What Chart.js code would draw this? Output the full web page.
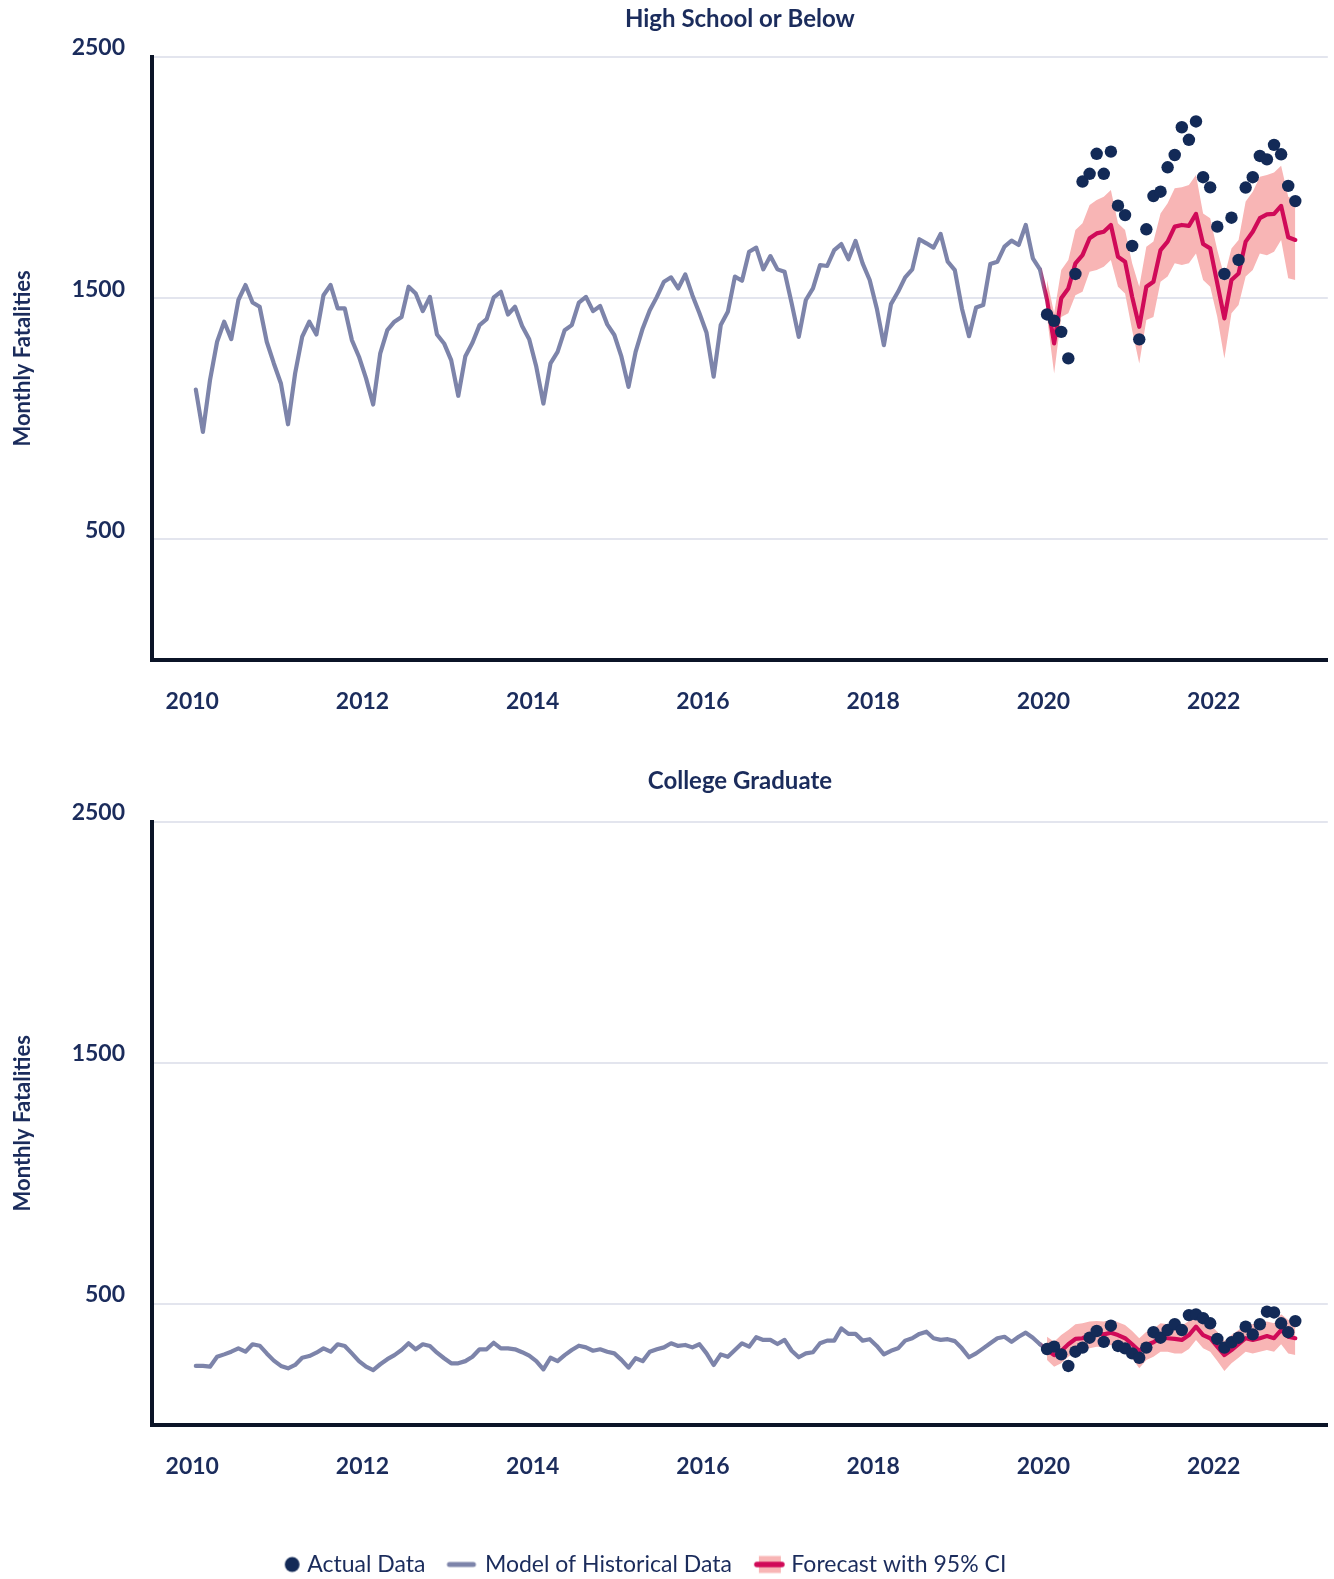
<!DOCTYPE html>
<html><head><meta charset="utf-8">
<script src="https://cdn.jsdelivr.net/npm/chart.js@4.4.1/dist/chart.umd.min.js"></script>
<style>
html,body{margin:0;padding:0;background:#ffffff;overflow:hidden;width:1334px;height:1579px;}
#c1wrap{position:absolute;left:0;top:0;width:1334px;height:740px;}
#c2wrap{position:absolute;left:0;top:760px;width:1334px;height:826px;}
</style></head><body>
<div id="c1wrap"><canvas id="c1"></canvas></div>
<div id="c2wrap"><canvas id="c2"></canvas></div>
<script>
// ---------- DATA ----------
const startYear = 2010;            // first month of series = Jan 2010
const forecastStartIndex = 120;    // Jan 2020
const xTickYears = [2010, 2012, 2014, 2016, 2018, 2020, 2022];
const yTickValues = [500, 1500, 2500];
const panelTitles = ["High School or Below", "College Graduate"];
const legendLabels = ["Actual Data", "Model of Historical Data", "Forecast with 95% CI"];

// High School or Below: monthly model of historical data, Jan 2010 - Dec 2019
const hsHistorical = [
1121,945,1160,1319,1402,1330,1492,1554,1482,1464,1319,1229,
1146,977,1188,1340,1402,1349,1512,1554,1457,1457,1326,1257,
1167,1059,1271,1367,1402,1422,1547,1519,1446,1505,1349,1312,
1243,1095,1259,1315,1388,1413,1503,1526,1432,1464,1384,1329,
1215,1063,1229,1277,1367,1388,1481,1505,1446,1467,1391,1347,
1257,1132,1277,1374,1450,1505,1568,1586,1540,1598,1512,1437,
1356,1174,1388,1443,1589,1572,1692,1709,1619,1674,1619,1609,
1478,1339,1492,1540,1637,1633,1699,1724,1661,1737,1644,1575,
1457,1305,1475,1526,1586,1619,1744,1727,1709,1766,1651,1616,
1457,1342,1461,1471,1641,1651,1713,1738,1720,1803,1665,1619];
// Forecast Jan 2020 - Dec 2022
const hsForecast = [
1492,1312,1499,1540,1644,1678,1748,1768,1775,1803,1671,1651,
1505,1381,1547,1568,1699,1734,1796,1803,1799,1849,1724,1706,
1561,1416,1575,1602,1734,1775,1831,1847,1849,1882,1752,1741];
const hsUpper = [
1575,1437,1616,1658,1782,1810,1886,1907,1920,1948,1810,1782,
1644,1547,1713,1734,1851,1893,1955,1959,1969,2010,1851,1831,
1699,1589,1706,1741,1900,1941,2003,2010,2020,2048,1920,1907];
const hsLower = [
1422,1187,1422,1437,1512,1526,1609,1616,1630,1658,1547,1519,
1367,1229,1409,1422,1568,1589,1644,1637,1644,1685,1575,1547,
1422,1250,1437,1471,1589,1616,1685,1678,1692,1741,1582,1575];
const hsActual = [
1432,1406,1360,1250,1600,1983,2015,2098,2015,2107,1883,1844,
1716,1329,1785,1923,1941,2042,2093,2208,2156,2232,2001,1959,
1796,1600,1833,1658,1958,2001,2089,2075,2135,2096,1965,1902];

// College Graduate
const cgHistorical = [
243,243,240,281,291,302,316,302,333,327,295,265,
243,233,247,277,284,298,316,302,333,326,295,263,
240,226,250,271,288,309,337,312,333,326,298,275,
254,254,263,281,312,312,339,316,316,312,300,286,
263,229,277,263,288,309,327,320,306,312,302,295,
268,236,275,263,302,312,320,337,326,330,320,333,
295,247,291,281,309,337,323,362,351,351,334,351,
306,279,295,300,337,348,348,399,376,376,348,354,
326,291,306,316,348,358,376,385,358,351,354,346,
316,279,295,316,337,358,364,343,364,381,360,333];
const cgForecast = [
309,288,305,333,355,358,371,378,374,381,371,358,
333,305,330,341,360,358,355,351,371,406,371,358,
323,288,309,333,358,351,358,367,358,392,364,358];
const cgUpper = [
364,343,371,392,416,420,427,429,427,434,424,413,
388,358,385,396,420,416,413,410,429,461,429,416,
385,346,371,392,420,416,420,427,420,457,434,427];
const cgLower = [
268,240,254,281,302,305,316,323,323,330,319,302,
275,233,268,281,302,302,295,295,313,351,316,302,
263,222,254,277,302,295,302,309,302,333,295,288];
const cgActual = [
313,323,291,243,302,319,360,388,343,410,326,316,
295,277,319,383,360,392,416,392,454,457,441,420,
355,319,341,360,406,374,416,468,465,420,383,429];

// ---------- STYLE ----------
const NAVY = '#1b2c5c';
const DOT = '#132a57';
const GRAY = '#7d84aa';
const RED = '#d00a58';
const PINK = '#f8b5b5';
const AXIS = '#0b1427';
const GRID = '#e3e5ee';
const FONT = 'Lato, "Open Sans", sans-serif';

function monthX(i) { return startYear + (i + 0.5) / 12; }
function seriesPoints(arr, offset) { return arr.map((v, i) => ({x: monthX(i + offset), y: v})); }

function buildDatasets(hist, fc, up, lo, act) {
  const lastHist = hist.length - 1;
  const forecastPts = [{x: monthX(lastHist), y: hist[lastHist]}].concat(seriesPoints(fc, forecastStartIndex));
  return [
    { label: legendLabels[0], data: seriesPoints(act, forecastStartIndex), showLine: false,
      pointRadius: 6.2, pointHoverRadius: 6.2, pointBackgroundColor: DOT, pointBorderWidth: 0, order: 0 },
    { label: legendLabels[2], data: forecastPts, borderWidth: 4.2, pointRadius: 0, tension: 0,
      borderJoinStyle: 'round', borderCapStyle: 'round', fill: false, order: 1,
      borderColor: function (ctx) {
        const chart = ctx.chart;
        if (!chart.chartArea || !chart.scales.x) return RED;
        const xs = chart.scales.x;
        const x0 = xs.getPixelForValue(monthX(lastHist));
        const x1 = xs.getPixelForValue(monthX(forecastStartIndex));
        const g = chart.ctx.createLinearGradient(x0, 0, x1, 0);
        g.addColorStop(0, GRAY); g.addColorStop(1, RED);
        return g;
      } },
    { label: legendLabels[1], data: seriesPoints(hist, 0), borderColor: GRAY, borderWidth: 4.2,
      pointRadius: 0, tension: 0, borderJoinStyle: 'round', borderCapStyle: 'round', fill: false, order: 2 },
    { label: 'upper', data: seriesPoints(up, forecastStartIndex), borderWidth: 0, borderColor: 'rgba(0,0,0,0)',
      pointRadius: 0, tension: 0, backgroundColor: PINK, fill: '+1', order: 3 },
    { label: 'lower', data: seriesPoints(lo, forecastStartIndex), borderWidth: 0, borderColor: 'rgba(0,0,0,0)',
      pointRadius: 0, tension: 0, fill: false, order: 4 }
  ];
}

// legend markers: canvas 40 wide, marker right-aligned so it sits just before the text
function makeMarker(kind) {
  const c = document.createElement('canvas');
  c.width = 40; c.height = 20;
  const cx = c.getContext('2d');
  if (kind === 'dot') {
    cx.fillStyle = DOT; cx.beginPath(); cx.arc(29.5, 10, 7.4, 0, Math.PI * 2); cx.fill();
  } else if (kind === 'line') {
    cx.strokeStyle = GRAY; cx.lineWidth = 5; cx.lineCap = 'round';
    cx.beginPath(); cx.moveTo(9, 10); cx.lineTo(33, 10); cx.stroke();
  } else {
    cx.fillStyle = PINK; cx.fillRect(12, 1.5, 22, 17);
    cx.strokeStyle = RED; cx.lineWidth = 5.5; cx.lineCap = 'round';
    cx.beginPath(); cx.moveTo(10, 10); cx.lineTo(35, 10); cx.stroke();
  }
  return c;
}

const legendShift = {
  id: 'legendShift',
  afterLayout(chart, args, opts) {
    if (chart.legend && opts && opts.dx) { chart.legend.left += opts.dx; chart.legend.right += opts.dx; }
  }
};

function makeChart(id, title, data, titlePad, withLegend, xHeight) {
  const markers = [makeMarker('dot'), makeMarker('line'), makeMarker('forecast')];
  return new Chart(document.getElementById(id), {
    type: 'line',
    data: { datasets: buildDatasets.apply(null, data) },
    plugins: [legendShift],
    options: {
      responsive: true, maintainAspectRatio: false, animation: false,
      layout: { padding: { left: 0, right: 2, top: 0, bottom: 0 } },
      plugins: {
        tooltip: { enabled: false },
        legendShift: { dx: withLegend ? -28 : 0 },
        title: { display: true, text: title, fullSize: false, color: NAVY,
          font: { family: FONT, size: 24, weight: 'bold' }, padding: titlePad },
        legend: {
          display: withLegend, position: 'bottom',
          labels: {
            usePointStyle: true, pointStyleWidth: 26, padding: 22, color: NAVY,
            font: { family: FONT, size: 23 },
            generateLabels: function () {
              return legendLabels.map((t, i) => ({ text: t, pointStyle: markers[i], fillStyle: 'transparent',
                strokeStyle: 'transparent', lineWidth: 0, hidden: false, datasetIndex: i, fontColor: NAVY }));
            }
          }
        }
      },
      scales: {
        x: {
          type: 'linear', min: 2009.527, max: 2023.34,
          afterBuildTicks: s => { s.ticks = xTickYears.map(v => ({ value: v })); },
          afterFit: s => { s.height = xHeight; },
          grid: { display: false, drawTicks: false },
          border: { display: true, color: AXIS, width: 4 },
          ticks: { color: NAVY, padding: 28, font: { family: FONT, size: 23, weight: 'bold' },
            autoSkip: false, maxRotation: 0, callback: v => String(v) }
        },
        y: {
          type: 'linear', min: 0, max: 2500,
          afterBuildTicks: s => { s.ticks = yTickValues.map(v => ({ value: v })); },
          afterFit: s => { s.width = 152; },
          grid: { color: GRID, lineWidth: 2, drawTicks: false },
          border: { display: true, color: AXIS, width: 4 },
          ticks: { color: NAVY, padding: 27, labelOffset: -9, font: { family: FONT, size: 23, weight: 'bold' },
            callback: v => String(v) },
          title: { display: true, text: 'Monthly Fatalities', color: NAVY,
            font: { family: FONT, size: 22, weight: 'bold' }, padding: { top: 10, bottom: 0 } }
        }
      }
    }
  });
}

makeChart('c1', panelTitles[0], [hsHistorical, hsForecast, hsUpper, hsLower, hsActual], { top: 5, bottom: 23 }, false, 80);
makeChart('c2', panelTitles[1], [cgHistorical, cgForecast, cgUpper, cgLower, cgActual], { top: 7, bottom: 26.2 }, true, 106.5);
</script></body></html>
